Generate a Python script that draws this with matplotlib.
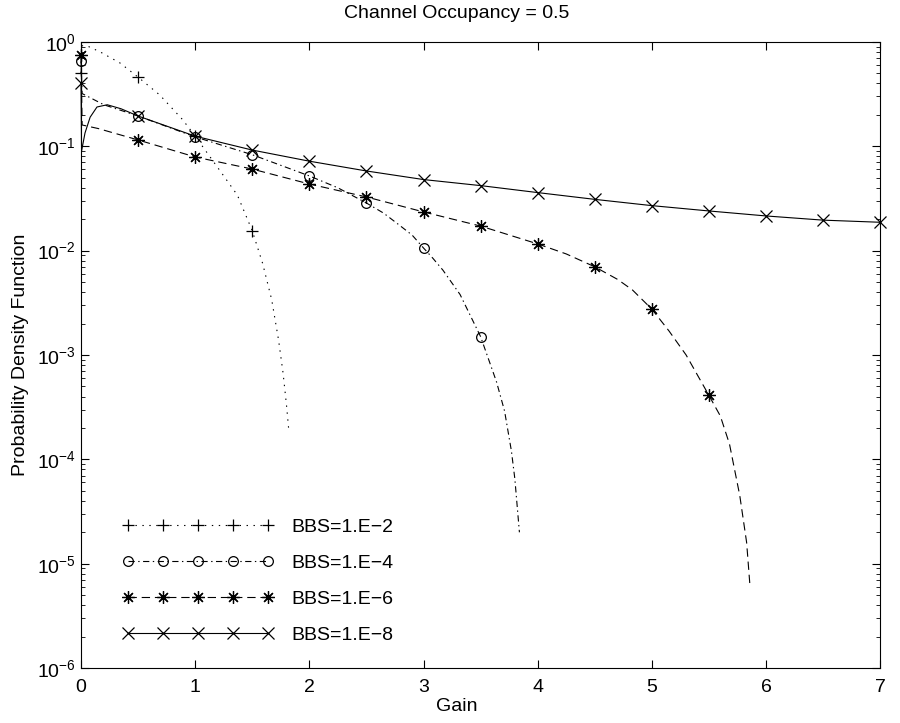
import matplotlib
matplotlib.use('Agg')
import matplotlib.pyplot as plt
from matplotlib.lines import Line2D
from matplotlib.ticker import FixedLocator, FuncFormatter, LogLocator, NullFormatter
import numpy as np

plt.rcParams['font.family'] = ['Liberation Sans', 'DejaVu Sans']
plt.rcParams['font.size'] = 14
plt.rcParams['lines.scale_dashes'] = False

# values
gain_1 = [0, 0.005, 0.06, 0.17, 0.34, 0.5, 0.69, 0.89, 1.0, 1.25, 1.37, 1.5,
          1.59, 1.67, 1.73, 1.77, 1.80, 1.82]
pdf_1 = [0.50, 0.92, 0.91, 0.80, 0.63, 0.46, 0.31, 0.18, 0.125, 0.052, 0.034, 0.0155,
         0.0076, 0.0034, 0.0014, 6.7e-4, 3.3e-4, 1.9e-4]

gain_2 = [0, 0.01, 0.06, 0.2, 0.5, 1.0, 1.5, 2.0, 2.25, 2.5, 2.65, 2.79, 2.9, 3.0,
          3.08, 3.17, 3.32, 3.5, 3.64, 3.71, 3.77, 3.80, 3.84]
pdf_2 = [0.65, 0.32, 0.30, 0.25, 0.195, 0.123, 0.083, 0.052, 0.040, 0.0286, 0.0229,
         0.0175, 0.0141, 0.0106, 0.0085, 0.0065, 0.0038, 0.0015, 5.5e-4, 2.9e-4,
         1.2e-4, 6.5e-5, 2.0e-5]

gain_3 = [0, 0.01, 0.15, 0.5, 1.0, 1.5, 2.0, 2.5, 3.0, 3.5, 4.0, 4.25, 4.5, 4.7,
          4.83, 5.0, 5.15, 5.3, 5.5, 5.6, 5.68, 5.77, 5.83, 5.86]
pdf_3 = [0.75, 0.16, 0.148, 0.115, 0.079, 0.0605, 0.0435, 0.0327, 0.0235, 0.0172,
         0.0116, 0.0093, 0.0070, 0.0053, 0.0042, 0.00275, 0.0017, 0.0010, 4.1e-4,
         2.6e-4, 1.4e-4, 4.5e-5, 1.6e-5, 6e-6]

gain_4 = [0, 0.005, 0.035, 0.08, 0.14, 0.23, 0.35, 0.5, 1.0, 1.5, 2.0, 2.5, 3.0,
          3.5, 4.0, 4.5, 5.0, 5.5, 6.0, 6.5, 7.0]
pdf_4 = [0.40, 0.09, 0.134, 0.19, 0.238, 0.25, 0.229, 0.195, 0.125, 0.092, 0.072,
         0.058, 0.048, 0.042, 0.036, 0.031, 0.027, 0.024, 0.0215, 0.0196, 0.0187]

labels = ['BBS=1.E\u22122', 'BBS=1.E\u22124', 'BBS=1.E\u22126', 'BBS=1.E\u22128']
styles = [(0, (1, 4)), (0, (4.5, 2.5, 1, 2.5)), (0, (6, 3.5)), '-']
markers = ['+', 'o', (8, 2, 0), 'x']
msizes = [8, 7, 9, 8]

fig = plt.figure(figsize=(9, 7.23), dpi=100)
ax = fig.add_axes([0.09, 0.076, 0.888, 0.866])

series = [(gain_1, pdf_1), (gain_2, pdf_2), (gain_3, pdf_3), (gain_4, pdf_4)]
handles = []
for (g, p), ls, mk, ms, lab in zip(series, styles, markers, msizes, labels):
    g = np.array(g)
    p = np.array(p)
    ax.plot(g, p, color='k', ls=ls, lw=0.8, clip_on=False)
    sel = np.isclose(np.mod(g, 0.5), 0)
    ax.plot(g[sel], p[sel], ls='none', marker=mk, ms=ms, mec='k', mfc='none',
            mew=0.9, clip_on=False)
    handles.append(Line2D([0], [0], color='k', ls=ls, lw=0.8, marker=mk, ms=ms,
                          mec='k', mfc='none', mew=0.9, label=lab))

ax.set_yscale('log')
ax.set_xlim(0, 7)
ax.set_ylim(1e-6, 1)
ax.xaxis.set_major_locator(FixedLocator(range(8)))
ax.yaxis.set_major_locator(LogLocator(base=10, numticks=10))
ax.yaxis.set_minor_locator(LogLocator(base=10, subs=np.arange(2, 10), numticks=10))
ax.yaxis.set_minor_formatter(NullFormatter())
ax.yaxis.set_major_formatter(FuncFormatter(
    lambda v, pos: r'$\mathregular{10^{%d}}$' % round(np.log10(v))))
ax.tick_params(which='both', direction='in', top=True, right=True, labelsize=14)
ax.tick_params(which='major', length=6, width=0.8)
ax.tick_params(axis='x', pad=8)
ax.tick_params(which='minor', length=3, width=0.6)
for s in ax.spines.values():
    s.set_linewidth(0.8)

ax.set_title('Channel Occupancy = 0.5', fontsize=14, pad=17, x=0.47)
ax.set_xlabel('Gain', fontsize=14, labelpad=1, x=0.47)
ax.set_ylabel('Probability Density Function', fontsize=14, labelpad=6)

ax.legend(handles=handles, loc='lower left', bbox_to_anchor=(0.052, 0.038),
          frameon=False, numpoints=5, handlelength=7.8, handletextpad=0.9,
          labelspacing=0.95, borderpad=0, borderaxespad=0, fontsize=14)

fig.savefig('out.png', dpi=100)
